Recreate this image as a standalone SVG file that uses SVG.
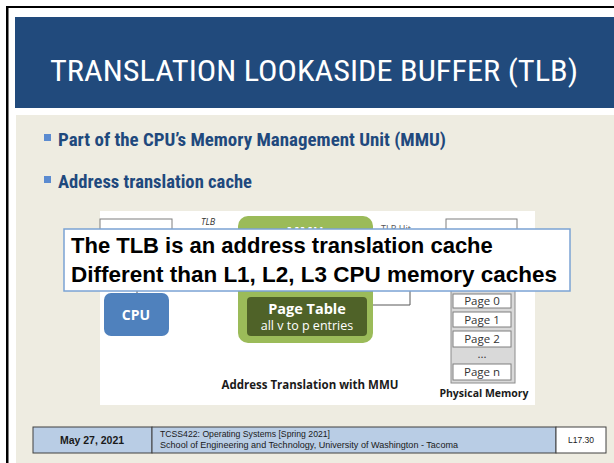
<svg xmlns="http://www.w3.org/2000/svg" width="614" height="463" viewBox="0 0 614 463">
<defs>
<style>
.title{font-family:"Liberation Sans Narrow","Roboto Condensed","Liberation Sans",sans-serif;font-size:29px;fill:#ffffff;}
.bul{font-family:"Liberation Sans Narrow","Roboto Condensed","Liberation Sans",sans-serif;font-size:18px;font-weight:bold;fill:#1f497d;}
.dg{font-family:"Open Sans","Noto Sans","DejaVu Sans",sans-serif;}
.pg{font-family:"Open Sans","Noto Sans",sans-serif;font-size:11.5px;fill:#333333;text-anchor:middle;}
.pbox{fill:#ffffff;stroke:#7f7f7f;stroke-width:1;}
.call{font-family:"Liberation Sans",Arial,sans-serif;font-size:22px;font-weight:bold;fill:#000000;}
.ft{font-family:"Liberation Sans",Arial,sans-serif;fill:#1a1a1a;}
.conn{fill:none;stroke:#595959;stroke-width:1;}
</style>
<marker id="ah" viewBox="0 0 10 10" refX="9" refY="5" markerWidth="5" markerHeight="5" orient="auto"><path d="M0,0 L10,5 L0,10 z" fill="#1a1a1a"/></marker>
</defs>
<rect x="0" y="0" width="614" height="463" fill="#ffffff"/>
<rect x="6" y="6" width="608" height="2" fill="#000000"/>
<rect x="6" y="6" width="2.5" height="457" fill="#000000"/>
<g id="header">
<rect x="15" y="17" width="599" height="91" fill="#214a7c"/>
<text class="title" x="50" y="81" textLength="528" lengthAdjust="spacingAndGlyphs">TRANSLATION LOOKASIDE BUFFER (TLB)</text>
</g>
<rect x="16" y="115" width="598" height="348" fill="#eeece1"/>
<g id="bullets">
<rect x="44" y="134" width="7" height="7" fill="#5b8bd0"/>
<text class="bul" x="58" y="146" textLength="388" lengthAdjust="spacingAndGlyphs">Part of the CPU’s Memory Management Unit (MMU)</text>
<rect x="44" y="176" width="7" height="7" fill="#5b8bd0"/>
<text class="bul" x="58" y="188" textLength="194" lengthAdjust="spacingAndGlyphs">Address translation cache</text>
</g>
<g id="diagram-bg"><rect x="100" y="211" width="435" height="194" fill="#ffffff"/></g>
<g id="tlb-box">
<rect x="100" y="219" width="72" height="45" fill="#ffffff" stroke="#7f7f7f" stroke-width="1"/>
<text class="dg" x="201" y="225" font-size="9" font-style="italic" fill="#333333">TLB</text>
</g>
<g id="connectors">
<line class="conn" x1="137" y1="264" x2="137" y2="293"/>
<line x1="307" y1="270" x2="307" y2="297" stroke="#1a1a1a" stroke-width="1" marker-end="url(#ah)"/>
<polyline class="conn" points="367,305 410,305 410,270"/>
</g>
<g id="mmu">
<rect x="238" y="216" width="135" height="127" rx="10" fill="#9bbb59"/>
<text class="dg" x="305" y="237" font-size="14" font-weight="bold" fill="#ffffff" text-anchor="middle">MMU</text>
</g>
<g id="tlb-hit"><text class="dg" x="381" y="232" font-size="9" fill="#555555">TLB Hit</text></g>
<g id="page-table">
<rect x="247" y="297" width="120" height="39" rx="4" fill="#4f6228"/>
<text class="dg" x="307" y="314" font-size="14.5" font-weight="bold" fill="#ffffff" text-anchor="middle">Page Table</text>
<text class="dg" x="307" y="330" font-size="12.5" fill="#ffffff" text-anchor="middle">all v to p entries</text>
</g>
<g id="cpu">
<rect x="104" y="293" width="65" height="43" rx="7" fill="#4f81bd"/>
<text class="dg" x="136" y="320" font-size="14" font-weight="bold" fill="#ffffff" text-anchor="middle">CPU</text>
</g>
<g id="physical-memory">
<rect x="446" y="219" width="71" height="45" fill="#ffffff" stroke="#7f7f7f" stroke-width="1"/>
<rect x="451" y="270" width="64" height="113" fill="#d9d9d9" stroke="#8c8c8c" stroke-width="1"/>
<rect class="pbox" x="453" y="294" width="58" height="14"/>
<text class="pg" x="482" y="305">Page 0</text>
<rect class="pbox" x="453" y="312" width="58" height="15"/>
<text class="pg" x="482" y="324">Page 1</text>
<rect class="pbox" x="453" y="331" width="58" height="16"/>
<text class="pg" x="482" y="343">Page 2</text>
<text class="pg" x="482" y="358" font-size="9">...</text>
<rect class="pbox" x="453" y="364" width="58" height="16"/>
<text class="pg" x="482" y="376">Page n</text>
<text class="dg" x="484" y="397" font-size="10.5" font-weight="bold" fill="#1a1a1a" text-anchor="middle">Physical Memory</text>
</g>
<g id="caption"><text class="dg" x="310" y="389" font-size="11.5" font-weight="bold" fill="#1a1a1a" text-anchor="middle">Address Translation with MMU</text></g>
<g id="callout">
<rect x="64" y="229" width="506" height="62" fill="#ffffff" stroke="#7ba3d4" stroke-width="1.5"/>
<text class="call" x="71" y="253">The TLB is an address translation cache</text>
<text class="call" x="71" y="282" textLength="486" lengthAdjust="spacingAndGlyphs">Different than L1, L2, L3 CPU memory caches</text>
</g>
<g id="footer">
<rect x="33" y="427" width="119" height="26" fill="#b9cde5" stroke="#404040" stroke-width="1"/>
<rect x="152" y="427" width="404" height="26" fill="#b9cde5" stroke="#404040" stroke-width="1"/>
<rect x="556" y="427" width="50" height="26" fill="#ffffff" stroke="#404040" stroke-width="1"/>
<text class="ft" x="92" y="444" font-size="10.5" font-weight="bold" text-anchor="middle">May 27, 2021</text>
<text class="ft" x="160" y="437" font-size="9" textLength="170" lengthAdjust="spacingAndGlyphs">TCSS422: Operating Systems [Spring 2021]</text>
<text class="ft" x="160" y="448" font-size="9" textLength="298" lengthAdjust="spacingAndGlyphs">School of Engineering and Technology, University of Washington - Tacoma</text>
<text class="ft" x="581" y="443" font-size="8.5" text-anchor="middle">L17.30</text>
</g>
</svg>
